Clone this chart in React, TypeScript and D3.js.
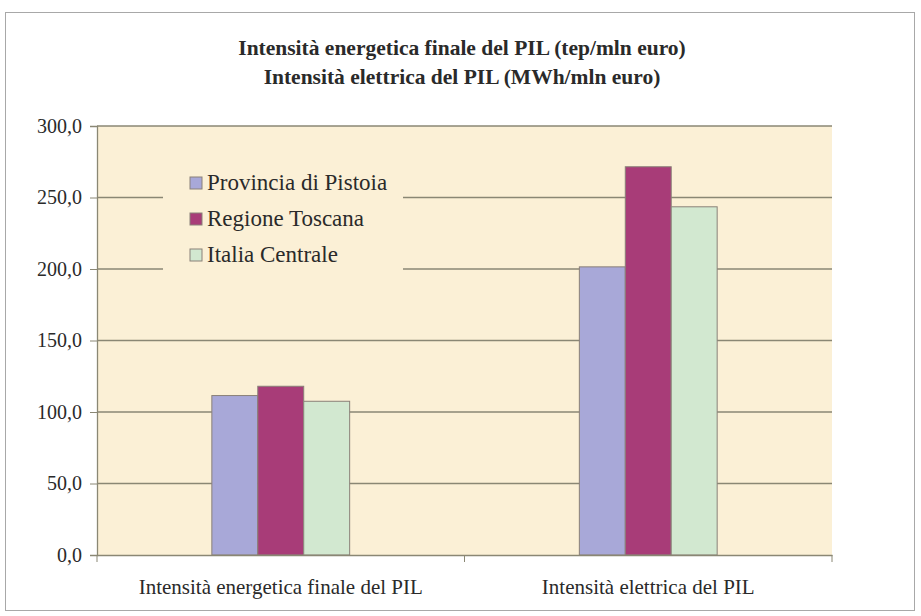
import { useEffect, useRef } from 'react';
import * as d3 from 'd3';

const categories = ['Intensità energetica finale del PIL', 'Intensità elettrica del PIL'];
const seriesNames = ['Provincia di Pistoia', 'Regione Toscana', 'Italia Centrale'];
const seriesColors = ['#a8a8d8', '#a83c78', '#d2e8d0'];
const pistoia = [111.5, 201.5];
const toscana = [118.0, 271.5];
const italiaCentrale = [107.5, 243.5];
const yTicks = [0, 50, 100, 150, 200, 250, 300];
const titleLines = [
  'Intensità energetica finale del PIL (tep/mln euro)',
  'Intensità elettrica del PIL (MWh/mln euro)',
];

export default function App() {
  const svgRef = useRef<SVGSVGElement>(null);

  useEffect(() => {
    if (!svgRef.current) return;
    const svg = d3.select(svgRef.current);
    svg.selectAll('*').remove();

    const W = 921;
    const H = 616;
    const margin = { top: 126, right: 89, bottom: 61, left: 97 };
    const width = W - margin.left - margin.right;
    const height = H - margin.top - margin.bottom;
    const font = '"Liberation Serif", "Times New Roman", serif';

    svg.attr('width', W).attr('height', H);

    // outer frame
    svg.append('rect')
      .attr('x', 5.5).attr('y', 12.5)
      .attr('width', 909).attr('height', 598)
      .style('fill', '#fff')
      .style('stroke', '#a8a8a8');

    // title
    titleLines.forEach((t, i) => {
      svg.append('text')
        .attr('x', 462)
        .attr('y', 55 + i * 29)
        .attr('text-anchor', 'middle')
        .style('font-family', font)
        .style('font-weight', 'bold')
        .style('font-size', '21.5px')
        .style('fill', '#2a2a2a')
        .text(t);
    });

    const g = svg.append('g').attr('transform', `translate(${margin.left},${margin.top})`);

    const x0 = d3.scaleBand<string>().domain(categories).range([0, width]).paddingInner(0).paddingOuter(0);
    const x1 = d3.scaleBand<string>().domain(seriesNames).range([0, x0.bandwidth()]).paddingOuter(2.5).paddingInner(0);
    const y = d3.scaleLinear().domain([0, 300]).range([height, 0]);

    g.append('rect')
      .attr('width', width).attr('height', height)
      .style('fill', '#fbf0d6');

    // gridlines
    g.selectAll('line.grid')
      .data(yTicks.filter(d => d > 0))
      .enter()
      .append('line')
      .attr('class', 'grid')
      .attr('x1', 0).attr('x2', width)
      .attr('y1', d => y(d)).attr('y2', d => y(d))
      .style('stroke', '#8a8774')
      .style('stroke-width', 1.3);

    // legend box hides the gridlines behind it
    const legend = g.append('g').attr('transform', 'translate(66,36)');
    legend.append('rect')
      .attr('width', 240).attr('height', 126)
      .style('fill', '#fbf0d6');

    // bars
    const values = [pistoia, toscana, italiaCentrale];
    categories.forEach((cat, ci) => {
      seriesNames.forEach((s, si) => {
        const v = values[si][ci];
        g.append('rect')
          .attr('x', (x0(cat) ?? 0) + (x1(s) ?? 0))
          .attr('y', y(v))
          .attr('width', x1.bandwidth())
          .attr('height', y(0) - y(v))
          .style('fill', seriesColors[si])
          .style('stroke', '#8a8078')
          .style('stroke-width', 1);
      });
    });

    seriesNames.forEach((s, i) => {
      const row = legend.append('g').attr('transform', `translate(27,${28 + i * 36})`);
      row.append('rect')
        .attr('x', 0).attr('y', -13)
        .attr('width', 12).attr('height', 12)
        .style('fill', seriesColors[i])
        .style('stroke', '#8a8078');
      row.append('text')
        .attr('x', 17).attr('y', 0)
        .style('font-family', font)
        .style('font-size', '23px')
        .style('fill', '#2a2a2a')
        .text(s);
    });

    // y axis
    const yAxis = g.append('g')
      .call(d3.axisLeft(y).tickValues(yTicks).tickSize(7).tickPadding(8)
        .tickFormat(d => d3.format('.1f')(d as number).replace('.', ',')));
    yAxis.selectAll('text')
      .style('font-family', font)
      .style('font-size', '20px')
      .style('fill', '#2a2a2a');

    // x axis
    const xAxis = g.append('g')
      .attr('transform', `translate(0,${height})`)
      .call(d3.axisBottom(x0).tickSize(0).tickPadding(24));
    xAxis.selectAll('text')
      .style('font-family', font)
      .style('font-size', '21px')
      .style('fill', '#2a2a2a');
    xAxis.selectAll('line.sep')
      .data([0, width / 2, width])
      .enter()
      .append('line')
      .attr('class', 'sep')
      .attr('x1', d => d).attr('x2', d => d)
      .attr('y1', 0).attr('y2', 7)
      .style('stroke', '#8a8774');

    svg.selectAll('.domain').style('stroke', '#8a8774').style('stroke-width', 1.3);
    svg.selectAll('.tick line').style('stroke', '#8a8774');
  }, []);

  return (
    <div style={{ position: 'absolute', left: 0, top: 0 }}>
      <svg ref={svgRef} style={{ display: 'block' }} />
    </div>
  );
}
